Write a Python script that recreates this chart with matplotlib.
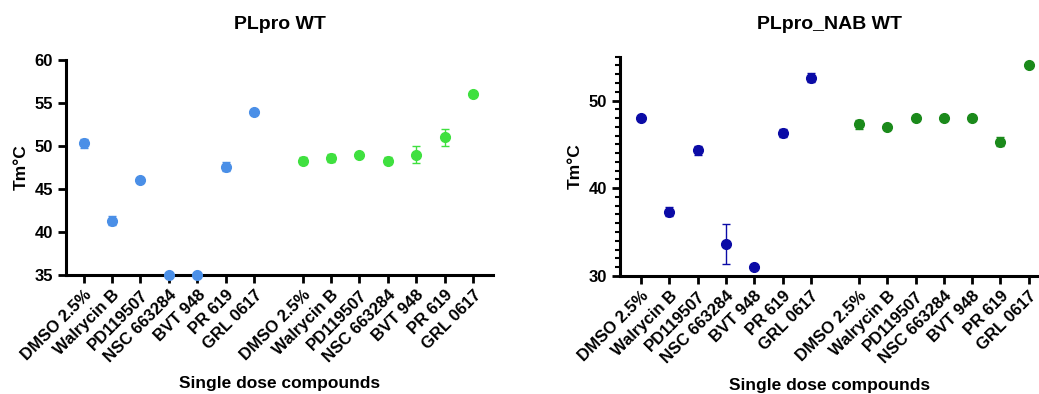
import numpy as np
import matplotlib.pyplot as plt
from matplotlib.ticker import MultipleLocator

plt.rcParams['font.family'] = ['Liberation Sans', 'DejaVu Sans']
plt.rcParams['font.weight'] = 'bold'

compounds = ["DMSO 2.5%", "Walrycin B", "PD119507", "NSC 663284", "BVT 948", "PR 619", "GRL 0617"]

# PLpro WT
wt_a = [50.3, 41.3, 46.0, 35.0, 35.0, 47.6, 54.0]
wt_a_err = [0.5, 0.5, 0.0, 0.0, 0.0, 0.5, 0.0]
wt_b = [48.3, 48.6, 49.0, 48.3, 49.0, 51.0, 56.0]
wt_b_err = [0.4, 0.5, 0.0, 0.4, 1.0, 1.0, 0.0]

# PLpro_NAB WT
nab_a = [48.0, 37.3, 44.3, 33.6, 31.0, 46.3, 52.6]
nab_a_err = [0.0, 0.5, 0.5, 2.3, 0.0, 0.5, 0.5]
nab_b = [47.3, 47.0, 48.0, 48.0, 48.0, 45.3, 54.0]
nab_b_err = [0.5, 0.0, 0.0, 0.0, 0.0, 0.5, 0.0]

gap = 1.7
xa = np.arange(7)
xb = np.arange(7) + 6 + gap
xticks = np.concatenate([xa, xb])
labels = compounds + compounds

fig = plt.figure(figsize=(10.39, 3.94), dpi=100)
ax1 = fig.add_axes([66/1039, 0.302, 427/1039, 0.546])
ax2 = fig.add_axes([620/1039, 0.300, 419/1039, 0.556])


def panel(ax, ya, ea, yb, eb, ca, cb, title, ylim, xlim, tpad, xl_y):
    for x, y, e, c in [(xa, ya, ea, ca), (xb, yb, eb, cb)]:
        ax.errorbar(x, y, yerr=e, fmt='o', color=c, ms=7, capsize=3,
                    elinewidth=1, capthick=1, clip_on=False, zorder=3)
    ax.set_xlim(*xlim)
    ax.set_ylim(*ylim)
    ax.set_xticks(xticks)
    ax.set_xticklabels(labels, rotation=45, ha='right', rotation_mode='anchor',
                       fontsize=11, fontweight='bold')
    ax.spines['top'].set_visible(False)
    ax.spines['right'].set_visible(False)
    for s in ['left', 'bottom']:
        ax.spines[s].set_linewidth(2.2)
    ax.tick_params(axis='both', which='major', width=2, length=6, labelsize=12)
    ax.tick_params(axis='x', pad=3)
    ax.set_ylabel("Tm°C", fontsize=12.5, fontweight='bold')
    ax.set_xlabel("Single dose compounds", fontsize=12.5, fontweight='bold')
    ax.xaxis.set_label_coords(0.5, xl_y)
    ax.set_title(title, fontsize=14, fontweight='bold', pad=tpad)


panel(ax1, wt_a, wt_a_err, wt_b, wt_b_err, '#4a8fe7', '#3fe03f',
      "PLpro WT", (35, 60), (-0.62, 14.4), 22, -0.47)
ax1.set_yticks([35, 40, 45, 50, 55, 60])

panel(ax2, nab_a, nab_a_err, nab_b, nab_b_err, '#0b0ba6', '#1b8a1b',
      "PLpro_NAB WT", (30, 55), (-0.74, 14.06), 20, -0.467)
ax2.set_yticks([30, 40, 50])
ax2.yaxis.set_minor_locator(MultipleLocator(1))
ax2.tick_params(axis='y', which='minor', width=1.5, length=3.5)

fig.savefig("out.png", dpi=100)
